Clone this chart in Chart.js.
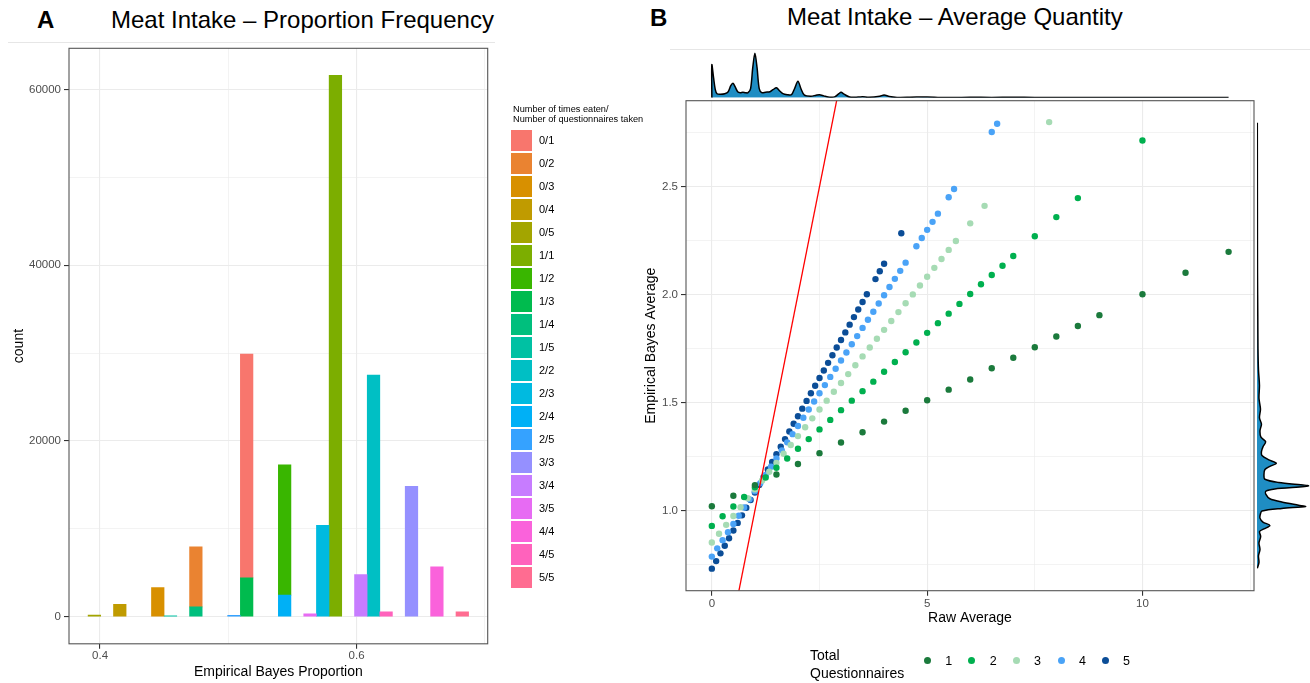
<!DOCTYPE html>
<html><head><meta charset="utf-8">
<script src="https://cdn.jsdelivr.net/npm/chart.js@4.4.1/dist/chart.umd.min.js"></script>
<style>
html,body{margin:0;padding:0;background:#fff;}
body{width:1310px;height:683px;position:relative;overflow:hidden;font-family:"Liberation Sans",Arial,Helvetica,sans-serif;color:#000;}
canvas{position:absolute;}
.t{position:absolute;white-space:nowrap;}
.sep{position:absolute;height:1px;background:#e6e6e6;}
.sw{position:absolute;width:21px;height:21px;}
.dot{position:absolute;width:7px;height:7px;border-radius:50%;}
</style></head><body>
<div class="t" style="left:37px;top:8px;font-size:24px;line-height:24px;font-weight:bold;">A</div>
<div class="t" style="left:111px;top:8px;font-size:24px;line-height:24px;">Meat Intake – Proportion Frequency</div>
<div class="sep" style="left:8px;top:42px;width:487px;"></div>
<div class="t" style="left:650px;top:6px;font-size:24px;line-height:24px;font-weight:bold;">B</div>
<div class="t" style="left:787px;top:5px;font-size:24px;line-height:24px;">Meat Intake – Average Quantity</div>
<div class="sep" style="left:670px;top:49px;width:640px;"></div>
<canvas id="cA" width="500" height="683" style="left:0;top:0;"></canvas>
<canvas id="cB" width="660" height="683" style="left:600px;top:0;"></canvas>
<canvas id="cTop" width="660" height="110" style="left:600px;top:0;"></canvas>
<canvas id="cRight" width="70" height="683" style="left:1240px;top:0;"></canvas>
<div id="legA"></div>
<div id="legB"></div>
<script>
// ---------------- Panel A data ----------------
const levelLabels = ['0/1','0/2','0/3','0/4','0/5','1/1','1/2','1/3','1/4','1/5','2/2','2/3','2/4','2/5','3/3','3/4','3/5','4/4','4/5','5/5'];
const levelColors = ['#F8766D','#EA8331','#D89000','#C09B00','#A3A500','#7CAE00','#39B600','#00BB4E','#00BF7D','#00C1A3','#00BFC4','#00BAE0','#00B0F6','#35A2FF','#9590FF','#C77CFF','#E76BF3','#FA62DB','#FF62BC','#FF6C91'];
const levelProportion = [0.5143,0.4747,0.4450,0.4154,0.3956,0.5835,0.5439,0.5143,0.4747,0.4549,0.6132,0.5736,0.5439,0.5044,0.6428,0.6033,0.5637,0.6626,0.6230,0.6824];
const levelCount = [25450,6810,3330,1420,180,61590,14820,4420,1130,110,27480,10400,2460,160,14850,4800,340,5670,570,570];
const propGridTicks = [0.4,0.5,0.6,0.7];
const propLabelTicks = [0.4,0.6];
const countGridTicks = [0,10000,20000,30000,40000,50000,60000];
const countLabelTicks = [0,20000,40000,60000];

// ---------------- Panel B data ----------------
const qLabels = ['1','2','3','4','5'];
const qColors = ['#1b7a3c','#00b04f','#a6dbb4','#4aa3f7','#0b4d97'];
const raw1 = [0,0.5,1,1.5,2,2.5,3,3.5,4,4.5,5,5.5,6,6.5,7,7.5,8,8.5,9,10,11,12];
const eb1  = [1.020,1.069,1.118,1.167,1.216,1.266,1.315,1.363,1.412,1.462,1.511,1.560,1.607,1.659,1.708,1.756,1.806,1.855,1.905,2.002,2.101,2.198];
const raw2 = [0,0.25,0.5,0.75,1,1.25,1.5,1.75,2,2.25,2.5,2.75,3,3.25,3.5,3.75,4,4.25,4.5,4.75,5,5.25,5.5,5.75,6,6.25,6.5,6.75,7,7.5,8,8.5,10];
const eb2  = [0.929,0.974,1.019,1.063,1.108,1.153,1.198,1.241,1.286,1.331,1.376,1.420,1.465,1.509,1.553,1.597,1.643,1.688,1.733,1.778,1.823,1.868,1.912,1.957,2.003,2.048,2.091,2.134,2.179,2.270,2.359,2.447,2.714];
const raw3 = [0,0.167,0.333,0.5,0.667,0.833,1,1.167,1.333,1.5,1.667,1.833,2,2.167,2.333,2.5,2.667,2.833,3,3.167,3.333,3.5,3.667,3.833,4,4.167,4.333,4.5,4.667,4.833,5,5.167,5.333,5.5,5.667,6,6.333,7.833];
const eb3  = [0.852,0.893,0.934,0.975,1.016,1.057,1.098,1.139,1.180,1.221,1.263,1.304,1.345,1.386,1.427,1.468,1.509,1.550,1.591,1.632,1.673,1.714,1.755,1.796,1.837,1.878,1.919,1.960,2.001,2.042,2.083,2.124,2.165,2.207,2.248,2.330,2.411,2.799];
const raw4 = [0,0.125,0.25,0.375,0.5,0.625,0.75,0.875,1,1.125,1.25,1.375,1.5,1.625,1.75,1.875,2,2.125,2.25,2.375,2.5,2.625,2.75,2.875,3,3.125,3.25,3.375,3.5,3.625,3.75,3.875,4,4.125,4.25,4.375,4.5,4.75,4.875,5,5.125,5.25,5.5,5.625,6.5,6.625];
const eb4  = [0.787,0.825,0.863,0.900,0.938,0.976,1.014,1.052,1.090,1.127,1.165,1.203,1.241,1.279,1.316,1.354,1.392,1.430,1.468,1.505,1.543,1.581,1.619,1.657,1.695,1.732,1.770,1.808,1.846,1.884,1.921,1.959,1.997,2.035,2.073,2.110,2.148,2.224,2.262,2.300,2.337,2.375,2.451,2.489,2.753,2.791];
const raw5 = [0,0.1,0.2,0.3,0.4,0.5,0.6,0.7,0.8,0.9,1,1.1,1.2,1.3,1.4,1.5,1.6,1.7,1.8,1.9,2,2.1,2.2,2.3,2.4,2.5,2.6,2.7,2.8,2.9,3,3.1,3.2,3.3,3.4,3.5,3.6,3.8,3.9,4,4.4];
const eb5  = [0.731,0.766,0.802,0.837,0.872,0.908,0.943,0.978,1.013,1.049,1.084,1.119,1.155,1.190,1.225,1.261,1.296,1.331,1.366,1.402,1.437,1.472,1.508,1.543,1.578,1.614,1.649,1.684,1.719,1.755,1.790,1.825,1.861,1.896,1.931,1.966,2.002,2.072,2.108,2.143,2.284];
const rawSeries = [raw1,raw2,raw3,raw4,raw5];
const ebSeries = [eb1,eb2,eb3,eb4,eb5];
const identityLine = [0,3];
const rawGridTicks = [0,2.5,5,7.5,10,12.5];
const rawLabelTicks = [0,5,10];
const ebGridTicks = [0.75,1,1.25,1.5,1.75,2,2.25,2.5,2.75];
const ebLabelTicks = [1,1.5,2,2.5];

// marginal densities
const topDensX = [0,0,0.04,0.08,0.12,0.2,0.3,0.38,0.44,0.49,0.54,0.6,0.66,0.72,0.78,0.84,0.9,0.95,1.0,1.05,1.1,1.16,1.25,1.35,1.42,1.5,1.57,1.65,1.75,1.85,1.92,2.0,2.07,2.15,2.3,2.42,2.5,2.6,2.7,2.85,2.95,3.0,3.07,3.2,3.4,3.5,3.65,3.9,4.0,4.12,4.3,4.6,5.0,5.3,5.6,6.0,6.5,7.0,7.5,8.0,8.5,9,10,11,12];
const topDensY = [0,33,20,8,4,3.5,4,6,12,14.5,11,6,5,5.5,5,5,9,30,44.5,30,9,5,5.5,6,8,10,7,4,3,3,9,16.5,9,2.5,1.5,2.5,3,1.8,0.6,0.8,4,5.4,3.5,0.7,0.6,0.9,0.4,1.5,2.7,1.2,0.3,0.4,0.8,0.3,0.2,0.4,0.3,0.4,0.3,0.3,0.2,0.2,0.3,0.2,0.2];
const rightDensV = [0.733,0.76,0.79,0.82,0.85,0.88,0.903,0.915,0.931,0.947,0.965,0.985,0.998,1.01,1.019,1.025,1.04,1.055,1.075,1.09,1.10,1.114,1.13,1.145,1.165,1.19,1.205,1.219,1.235,1.255,1.273,1.295,1.319,1.34,1.37,1.40,1.43,1.47,1.52,1.58,1.65,1.75,1.9,2.1,2.4,2.796];
const rightDensH = [0.3,2,1.5,3,2,3.7,2.6,7,13,6,3,3.5,5,25,49,42,25,13,9,9,18,52,22,8,7,8,13,19.5,12,5,4.5,6,8.7,4,3,4.5,2.5,3.5,2,2.5,1.5,1,0.8,0.5,0.4,0.3];

// ---------------- common ----------------
Chart.defaults.font.family = '"Liberation Sans", Arial, Helvetica, sans-serif';
const TICK_COLOR = '#4d4d4d';
const GRID = '#ebebeb';
const panelBorder = {
  id:'panelBorder',
  afterDraw(chart){
    const {ctx, chartArea:a} = chart;
    ctx.save(); ctx.strokeStyle = '#555'; ctx.lineWidth = 1.1;
    ctx.strokeRect(a.left, a.top, a.right-a.left, a.bottom-a.top);
    ctx.restore();
  }
};
function axisCfg(gridTicks, labelTicks, fmt, pad, extra){
  return Object.assign({
    type:'linear',
    offset:false,
    afterBuildTicks: s => { s.ticks = gridTicks.map(v => ({value:v})); },
    ticks:{ autoSkip:false, maxRotation:0, color:TICK_COLOR, font:{size:11.5}, padding:pad,
      callback: v => labelTicks.includes(v) ? fmt(v) : '' },
    grid:{ color:GRID, tickLength:5, offset:false,
      lineWidth: c => (c.tick && labelTicks.includes(c.tick.value)) ? 1.1 : 0.6,
      tickColor: c => (c.tick && labelTicks.includes(c.tick.value)) ? '#333' : 'rgba(0,0,0,0)',
      tickWidth: 1.1 },
    border:{display:false}
  }, extra);
}

// ---------------- Chart A ----------------
const datasetsA = levelLabels.map((lab,i) => ({
  label: lab,
  data: [{x: levelProportion[i], y: levelCount[i]}],
  backgroundColor: levelColors[i],
  borderWidth: 0,
  barPercentage: 1,
  categoryPercentage: 1
})).reverse();

new Chart(document.getElementById('cA'), {
  type:'bar',
  data:{datasets: datasetsA},
  options:{
    responsive:false, animation:false, events:[],
    layout:{padding:{top:48.3, right:12.3, left:0, bottom:0}},
    plugins:{legend:{display:false}, tooltip:{enabled:false}},
    scales:{
      x: axisCfg(propGridTicks, propLabelTicks, v => v.toFixed(1), 0, {
        stacked:true, min:0.3758, max:0.7022,
        title:{display:true, text:'Empirical Bayes Proportion', color:'#000', font:{size:14}, padding:{top:0,bottom:2.6}},
        afterFit: s => { s.height = 39.2; }
      }),
      y: axisCfg(countGridTicks, countLabelTicks, v => String(v), 3, {
        stacked:true, min:-3079, max:64669,
        title:{display:true, text:'count', color:'#000', font:{size:14}, padding:{top:10.6,bottom:0}},
        afterFit: s => { s.width = 69; }
      })
    }
  },
  plugins:[panelBorder]
});

// ---------------- Chart B ----------------
const datasetsB = [{
  type:'line',
  label:'identity',
  data: identityLine.map(v => ({x:v, y:v})),
  borderColor:'#ff0000', borderWidth:1.3, pointRadius:0, fill:false, showLine:true, order:0
}];
qLabels.forEach((lab,i) => {
  datasetsB.push({
    type:'scatter',
    label: lab,
    data: rawSeries[i].map((r,j) => ({x:r, y:ebSeries[i][j]})),
    backgroundColor: qColors[i], borderWidth:0, pointRadius:3.2, order: 1 + i
  });
});
new Chart(document.getElementById('cB'), {
  type:'scatter',
  data:{datasets: datasetsB},
  options:{
    responsive:false, animation:false, events:[],
    layout:{padding:{top:100.7, right:6, left:0, bottom:0}},
    plugins:{legend:{display:false}, tooltip:{enabled:false}},
    scales:{
      x: axisCfg(rawGridTicks, rawLabelTicks, v => String(v), 1, {
        min:-0.6, max:12.59,
        title:{display:true, text:'Raw Average', color:'#000', font:{size:14}, padding:{top:0,bottom:56.6}},
        afterFit: s => { s.height = 92.3; }
      }),
      y: axisCfg(ebGridTicks, ebLabelTicks, v => v.toFixed(1), 3, {
        min:0.629, max:2.898,
        title:{display:true, text:'Empirical Bayes Average', color:'#000', font:{size:14}, padding:{top:42.6,bottom:0}},
        afterFit: s => { s.width = 86; }
      })
    }
  },
  plugins:[panelBorder]
});

// ---------------- Marginal densities ----------------
const DENS_FILL = '#1f8dc3';
new Chart(document.getElementById('cTop'), {
  type:'line',
  data:{datasets:[{
    data: topDensX.map((x,i) => ({x:x, y:topDensY[i]})),
    borderColor:'#000', borderWidth:1.5, backgroundColor:DENS_FILL, fill:'origin',
    pointRadius:0, tension:0.3
  }]},
  options:{
    responsive:false, animation:false, events:[],
    layout:{padding:{left:86, right:6, top:49.7, bottom:12.3}},
    plugins:{legend:{display:false}, tooltip:{enabled:false}},
    scales:{
      x:{type:'linear', display:false, min:-0.6, max:12.59},
      y:{type:'linear', display:false, min:0, max:48}
    }
  }
});
new Chart(document.getElementById('cRight'), {
  type:'line',
  data:{datasets:[{
    data: rightDensV.map((v,i) => ({x:rightDensH[i], y:v})),
    borderColor:'#000', borderWidth:1.5, backgroundColor:DENS_FILL, fill:'origin',
    pointRadius:0, tension:0.3
  }]},
  options:{
    indexAxis:'y',
    responsive:false, animation:false, events:[],
    layout:{padding:{left:17, right:0, top:100.7, bottom:92.3}},
    plugins:{legend:{display:false}, tooltip:{enabled:false}},
    scales:{
      x:{type:'linear', display:false, min:0, max:53.5},
      y:{type:'linear', display:false, min:0.629, max:2.898}
    }
  }
});

// ---------------- Legends (HTML text) ----------------
(function(){
  const legA = document.getElementById('legA');
  const t1 = document.createElement('div'); t1.className='t';
  t1.style.cssText='left:513px;top:104.5px;font-size:9.2px;line-height:9.2px;';
  t1.textContent='Number of times eaten/'; legA.appendChild(t1);
  const t2 = document.createElement('div'); t2.className='t';
  t2.style.cssText='left:513px;top:115px;font-size:9.2px;line-height:9.2px;';
  t2.textContent='Number of questionnaires taken'; legA.appendChild(t2);
  levelLabels.forEach((lab,i) => {
    const top = 130 + i*22.98;
    const sw = document.createElement('div'); sw.className='sw';
    sw.style.left='511px'; sw.style.top=top+'px'; sw.style.background=levelColors[i];
    legA.appendChild(sw);
    const tx = document.createElement('div'); tx.className='t';
    tx.style.cssText='left:539px;font-size:11px;line-height:11px;top:'+(top+10.5-5.4)+'px;';
    tx.textContent=lab; legA.appendChild(tx);
  });
  const legB = document.getElementById('legB');
  const a = document.createElement('div'); a.className='t';
  a.style.cssText='left:810px;top:648px;font-size:14px;line-height:14px;'; a.textContent='Total'; legB.appendChild(a);
  const b = document.createElement('div'); b.className='t';
  b.style.cssText='left:810px;top:665.7px;font-size:14px;line-height:14px;'; b.textContent='Questionnaires'; legB.appendChild(b);
  const dotX = [927.3,971.7,1016,1061,1105];
  qLabels.forEach((lab,i) => {
    const d = document.createElement('div'); d.className='dot';
    d.style.left=(dotX[i]-3.5)+'px'; d.style.top=(660-3.5)+'px'; d.style.background=qColors[i];
    legB.appendChild(d);
    const tx = document.createElement('div'); tx.className='t';
    tx.style.cssText='font-size:12.5px;line-height:12.5px;top:'+(661-6.1)+'px;left:'+(dotX[i]+18)+'px;';
    tx.textContent=lab; legB.appendChild(tx);
  });
})();
</script>
</body></html>
